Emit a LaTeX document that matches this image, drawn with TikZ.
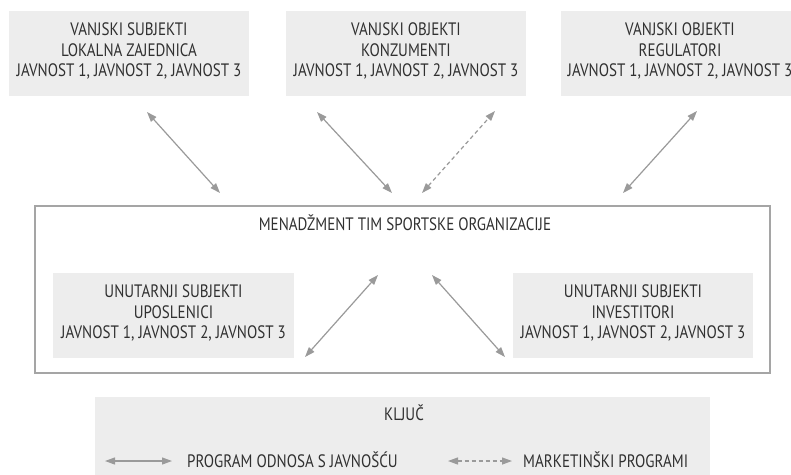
\documentclass[tikz,border=0pt]{standalone}
\usepackage{fontspec}
\setmainfont{PT Sans}[FakeStretch=0.835]
\usetikzlibrary{arrows.meta}
\definecolor{boxgray}{HTML}{EDEDED}
\definecolor{arrgray}{HTML}{9A9A9A}
\definecolor{txtgray}{HTML}{303030}
\definecolor{framegray}{HTML}{A5A5A5}
\tikzset{
  greybox/.style={fill=boxgray, draw=none},
  boxtext/.style={text=txtgray, align=center, inner sep=0pt, font=\fontsize{18}{20.7}\selectfont},
  conn/.style={draw=arrgray, line width=1.2pt, {Triangle[length=10pt,width=7pt]}-{Triangle[length=10pt,width=7pt]}},
  dconn/.style={conn, dash pattern=on 4pt off 3pt},
}
\begin{document}
\begin{tikzpicture}[x=1pt,y=-1pt]
\clip (0,0) rectangle (791,474);
\fill[white] (0,0) rectangle (791,474);
% top boxes
\fill[greybox] (9,11) rectangle (249,96);
\fill[greybox] (286,11) rectangle (526,96);
\fill[greybox] (561,11) rectangle (801,96);
\node[boxtext] (t1) at (129,51) {VANJSKI SUBJEKTI\\LOKALNA ZAJEDNICA\\JAVNOST 1, JAVNOST 2, JAVNOST 3};
\node[boxtext] (t2) at (406,51) {VANJSKI OBJEKTI\\KONZUMENTI\\JAVNOST 1, JAVNOST 2, JAVNOST 3};
\node[boxtext] (t3) at (680,51) {VANJSKI OBJEKTI\\REGULATORI\\JAVNOST 1, JAVNOST 2, JAVNOST 3};
% main frame
\draw[framegray, line width=1.3pt] (35,206) rectangle (770,373);
\node[boxtext] (mt) at (405,223) {MENADŽMENT TIM SPORTSKE ORGANIZACIJE};
\fill[greybox] (53,273) rectangle (294,358);
\fill[greybox] (513,273) rectangle (753,358);
\node[boxtext] (u1) at (173.5,313) {UNUTARNJI SUBJEKTI\\UPOSLENICI\\JAVNOST 1, JAVNOST 2, JAVNOST 3};
\node[boxtext] (u2) at (633,313) {UNUTARNJI SUBJEKTI\\INVESTITORI\\JAVNOST 1, JAVNOST 2, JAVNOST 3};
% key box
\fill[greybox] (95,397) rectangle (710,480);
\node[boxtext] (kl) at (404,413) {KLJUČ};
% arrow endpoints
\coordinate (a1s) at (147,112); \coordinate (a1e) at (220,193);
\coordinate (a2s) at (317,112); \coordinate (a2e) at (392,193);
\coordinate (a3s) at (422,193); \coordinate (a3e) at (495,111);
\coordinate (a4s) at (623,193); \coordinate (a4e) at (697,111);
\coordinate (a5s) at (305,357); \coordinate (a5e) at (378,275);
\coordinate (a6s) at (432,275); \coordinate (a6e) at (505,357);
\coordinate (l1s) at (105,461); \coordinate (l1e) at (172,461);
\coordinate (l2s) at (448,461); \coordinate (l2e) at (512,461);
\draw[conn] (a1s) -- (a1e);
\draw[conn] (a2s) -- (a2e);
\draw[dconn] (a3s) -- (a3e);
\draw[conn] (a4s) -- (a4e);
\draw[conn] (a5s) -- (a5e);
\draw[conn] (a6s) -- (a6e);
\draw[conn] (l1s) -- (l1e);
\draw[dconn] (l2s) -- (l2e);
\node[boxtext, anchor=west] (k1) at (187,460) {PROGRAM ODNOSA S JAVNOŠĆU};
\node[boxtext, anchor=west] (k2) at (523,460) {MARKETINŠKI PROGRAMI};
\end{tikzpicture}
\end{document}
